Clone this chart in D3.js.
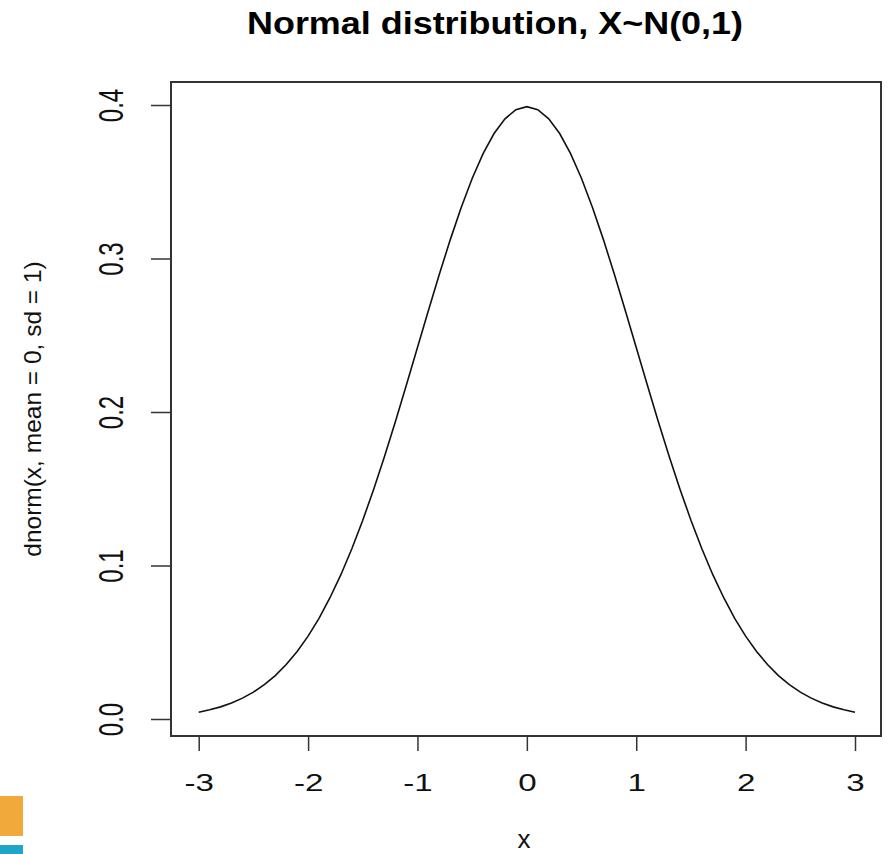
<!DOCTYPE html>
<html>
<head>
<meta charset="utf-8">
<script src="https://cdn.jsdelivr.net/npm/d3@7"></script>
<style>
  body { margin: 0; background: #fff; }
  svg { display: block; font-family: "Liberation Sans", Arial, sans-serif; }
</style>
</head>
<body>
<div id="chart"></div>
<script>
// curve values
const xValues = [-3.0, -2.9, -2.8, -2.7, -2.6, -2.5, -2.4, -2.3, -2.2, -2.1,
  -2.0, -1.9, -1.8, -1.7, -1.6, -1.5, -1.4, -1.3, -1.2, -1.1,
  -1.0, -0.9, -0.8, -0.7, -0.6, -0.5, -0.4, -0.3, -0.2, -0.1,
  0.0, 0.1, 0.2, 0.3, 0.4, 0.5, 0.6, 0.7, 0.8, 0.9,
  1.0, 1.1, 1.2, 1.3, 1.4, 1.5, 1.6, 1.7, 1.8, 1.9,
  2.0, 2.1, 2.2, 2.3, 2.4, 2.5, 2.6, 2.7, 2.8, 2.9, 3.0];
const yValues = [0.0044, 0.0060, 0.0079, 0.0104, 0.0136, 0.0175, 0.0224, 0.0283, 0.0355, 0.0440,
  0.0540, 0.0656, 0.0790, 0.0940, 0.1109, 0.1295, 0.1497, 0.1714, 0.1942, 0.2179,
  0.2420, 0.2661, 0.2897, 0.3123, 0.3332, 0.3521, 0.3683, 0.3814, 0.3910, 0.3970,
  0.3989, 0.3970, 0.3910, 0.3814, 0.3683, 0.3521, 0.3332, 0.3123, 0.2897, 0.2661,
  0.2420, 0.2179, 0.1942, 0.1714, 0.1497, 0.1295, 0.1109, 0.0940, 0.0790, 0.0656,
  0.0540, 0.0440, 0.0355, 0.0283, 0.0224, 0.0175, 0.0136, 0.0104, 0.0079, 0.0060, 0.0044];
const xTicks = [-3, -2, -1, 0, 1, 2, 3];
const yTicks = [0.0, 0.1, 0.2, 0.3, 0.4];
const titleText = "Normal distribution, X~N(0,1)";
const xLabel = "x";
const yLabel = "dnorm(x, mean = 0, sd = 1)";

const svg = d3.select("#chart")
    .append("svg")
    .attr("width", 890)
    .attr("height", 854);

const box = { left: 171, top: 82, right: 881, bottom: 736 };

const x = d3.scaleLinear().domain([-3, 3]).range([198.7, 855]);
const y = d3.scaleLinear().domain([0, 0.4]).range([719, 105]);

// plot frame
svg.append("rect")
    .attr("x", box.left).attr("y", box.top)
    .attr("width", box.right - box.left).attr("height", box.bottom - box.top)
    .attr("fill", "none").attr("stroke", "#333").attr("stroke-width", 2);

// x axis
const xAxis = svg.append("g")
    .attr("transform", "translate(0," + box.bottom + ")")
    .call(d3.axisBottom(x).tickValues(xTicks).tickSize(15).tickSizeOuter(0)
        .tickFormat(d => d < 0 ? "-" + Math.abs(d) : d));
xAxis.select(".domain")
    .attr("d", "M" + x(-3) + ",0H" + x(3))
    .attr("stroke", "#333").attr("stroke-width", 1.5);
xAxis.selectAll(".tick line").attr("stroke", "#333").attr("stroke-width", 1.5);
xAxis.selectAll(".tick text")
    .attr("font-family", "Liberation Sans, Arial, sans-serif")
    .attr("font-size", 24)
    .attr("fill", "#111")
    .attr("y", 55).attr("dy", 0)
    .attr("transform", "scale(1.38,1)");

// y axis
const yAxis = svg.append("g")
    .attr("transform", "translate(" + box.left + ",0)")
    .call(d3.axisLeft(y).tickValues(yTicks).tickSize(20).tickSizeOuter(0).tickFormat(d3.format(".1f")));
yAxis.select(".domain")
    .attr("d", "M0," + y(0) + "V" + y(0.4))
    .attr("stroke", "#333").attr("stroke-width", 1.5);
yAxis.selectAll(".tick line").attr("stroke", "#333").attr("stroke-width", 1.5);
yAxis.selectAll(".tick text")
    .attr("font-family", "Liberation Sans, Arial, sans-serif")
    .attr("font-size", 24)
    .attr("fill", "#111")
    .attr("text-anchor", "middle")
    .attr("x", 0).attr("y", 0).attr("dy", 0)
    .attr("transform", "translate(-48,0) scale(1.45,1) rotate(-90)");

// curve
const line = d3.line()
    .x((d, i) => x(xValues[i]))
    .y(d => y(d));
svg.append("path")
    .datum(yValues)
    .attr("d", line)
    .attr("fill", "none")
    .attr("stroke", "#111")
    .attr("stroke-width", 1.6);

// title
svg.append("text")
    .attr("x", 495).attr("y", 34)
    .attr("text-anchor", "middle")
    .attr("font-size", 31)
    .attr("font-weight", "bold")
    .attr("textLength", 496)
    .attr("lengthAdjust", "spacingAndGlyphs")
    .text(titleText);

// axis labels
svg.append("text")
    .attr("x", 524).attr("y", 848)
    .attr("text-anchor", "middle")
    .attr("font-size", 26)
    .attr("fill", "#111")
    .text(xLabel);

svg.append("text")
    .attr("transform", "translate(41,409) rotate(-90)")
    .attr("text-anchor", "middle")
    .attr("font-size", 24.5)
    .attr("fill", "#111")
    .text(yLabel);

// coloured corner marks at the bottom left
svg.append("rect").attr("x", 0).attr("y", 796).attr("width", 23).attr("height", 40).attr("fill", "#f2a93b");
svg.append("rect").attr("x", 0).attr("y", 845).attr("width", 23).attr("height", 9).attr("fill", "#1fa5c8");
</script>
</body>
</html>
